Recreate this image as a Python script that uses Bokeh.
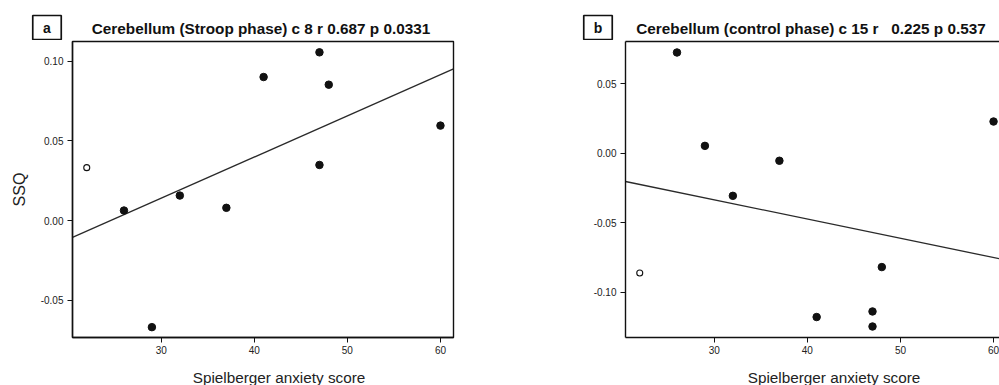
from bokeh.plotting import figure
from bokeh.layouts import row, column
from bokeh.models import FixedTicker, NumeralTickFormatter, Range1d, LinearAxis
from bokeh.core.properties import value
from bokeh.embed import file_html
from bokeh.resources import INLINE
import numpy as np

# ---------------- data ----------------
x_ticks = [30, 40, 50, 60]

# Panel a: Cerebellum (Stroop phase)
a_letter = "a"
a_title = "Cerebellum (Stroop phase) c 8 r 0.687 p 0.0331"
a_filled_x = [26, 29, 32, 37, 41, 47, 47, 48, 60]
a_filled_y = [0.0063, -0.0669, 0.0157, 0.0080, 0.0901, 0.1056, 0.0349, 0.0853, 0.0596]
a_open_x = [22]
a_open_y = [0.0332]
a_fit_intercept = -0.0635
a_fit_slope = 0.002584
a_y_ticks = [-0.05, 0.0, 0.05, 0.10]

# Panel b: Cerebellum (control phase)
b_letter = "b"
b_title = "Cerebellum (control phase) c 15 r \u00a0 0.225 p 0.537"
b_filled_x = [26, 29, 32, 37, 41, 47, 47, 48, 60]
b_filled_y = [0.0723, 0.0052, -0.0307, -0.0055, -0.1178, -0.1138, -0.1246, -0.0819, 0.0227]
b_open_x = [22]
b_open_y = [-0.0862]
b_fit_intercept = 0.00789
b_fit_slope = -0.001382
b_y_ticks = [-0.10, -0.05, 0.0, 0.05]

x_label = "Spielberger anxiety score"
y_label = "SSQ"

FONT = "Liberation Sans"
INK = "#111111"
TXT = "#222222"
W = 999


def style(p, yticks, ylab):
    p.grid.visible = False
    p.background_fill_color = "white"
    p.border_fill_color = "white"
    for ax in (p.xaxis[0], p.yaxis[0]):
        ax.axis_line_color = INK
        ax.axis_line_width = 1.4
        ax.major_tick_line_color = INK
        ax.major_tick_out = 5
        ax.major_tick_in = 0
        ax.minor_tick_line_color = None
        ax.major_label_text_font = FONT
        ax.major_label_text_font_size = "10px"
        ax.major_label_text_color = TXT
        ax.axis_label_text_font = FONT
        ax.axis_label_text_font_size = "16px"
        ax.axis_label_text_font_style = "normal"
        ax.axis_label_text_color = TXT
    p.xaxis[0].ticker = FixedTicker(ticks=x_ticks)
    p.xaxis[0].major_label_standoff = 3
    p.yaxis[0].ticker = FixedTicker(ticks=yticks)
    p.yaxis[0].formatter = NumeralTickFormatter(format="0.00")
    p.yaxis[0].major_label_standoff = 4
    if ylab:
        p.yaxis[0].axis_label = ylab
        p.yaxis[0].axis_label_standoff = 10


def add_points(p, fx, fy, ox, oy, b0, b1):
    xs = np.array([p.x_range.start, p.x_range.end])
    p.line(xs, b0 + b1 * xs, line_color="#2a2a2a", line_width=1.3)
    p.scatter(fx, fy, size=7.5, marker="circle", fill_color=INK, line_color=INK)
    p.scatter(ox, oy, size=6, marker="circle", fill_color="white", line_color=INK, line_width=1.1)


def strip(height):
    s = figure(width=W, height=height, x_range=Range1d(0, W), y_range=Range1d(height, 0),
               output_backend="svg", toolbar_location=None, x_axis_type=None, y_axis_type=None,
               min_border=0, outline_line_color=None)
    s.grid.visible = False
    s.background_fill_color = "white"
    s.border_fill_color = "white"
    return s


# ---------------- top strip: letters in boxes and titles ----------------
top = strip(40)
top.rect(x=[46.5, 597.5], y=[27, 27], width=[28.5, 28.5], height=[24, 24],
         fill_color=None, line_color=INK, line_width=1.7)
top.text(x=[46.5, 597.5], y=[27, 27], text=[a_letter, b_letter], text_font=value(FONT),
         text_font_size="14px", text_font_style="bold", text_color=INK,
         text_align="center", text_baseline="middle")
top.text(x=[260.5, 810.5], y=[28, 28], text=[a_title, b_title], text_font=value(FONT),
         text_font_size="15.3px", text_font_style="bold", text_color=INK,
         text_align="center", text_baseline="middle")

# ---------------- panel a ----------------
pa = figure(width=500, height=320, x_range=Range1d(20.47, 61.40), y_range=Range1d(-0.0734, 0.1124),
            output_backend="svg", toolbar_location=None,
            min_border_left=72, min_border_right=47, min_border_top=1, min_border_bottom=23)
pa.outline_line_color = INK
pa.outline_line_width = 1.4
style(pa, a_y_ticks, y_label)
add_points(pa, a_filled_x, a_filled_y, a_open_x, a_open_y, a_fit_intercept, a_fit_slope)

# ---------------- panel b ----------------
pb = figure(width=499, height=320, x_range=Range1d(20.47, 60.64), y_range=Range1d(-0.1325, 0.0802),
            output_backend="svg", toolbar_location=None,
            min_border_left=125, min_border_right=0, min_border_top=1, min_border_bottom=23)
pb.outline_line_color = None
style(pb, b_y_ticks, None)
top_axis = LinearAxis(ticker=FixedTicker(ticks=[]), major_tick_out=0, major_tick_in=0,
                      minor_tick_line_color=None, major_label_text_font_size="0px",
                      axis_line_color=INK, axis_line_width=1.4)
pb.add_layout(top_axis, "above")
add_points(pb, b_filled_x, b_filled_y, b_open_x, b_open_y, b_fit_intercept, b_fit_slope)

# ---------------- bottom strip: x-axis titles ----------------
bottom = strip(25)
bottom.text(x=[278.5, 833.5], y=[17, 17], text=[x_label, x_label], text_font=value(FONT),
            text_font_size="15.3px", text_color=TXT, text_align="center", text_baseline="alphabetic")

layout = column(top, row(pa, pb, spacing=0), bottom, spacing=0)
open("out.html", "w").write(file_html(layout, INLINE))
